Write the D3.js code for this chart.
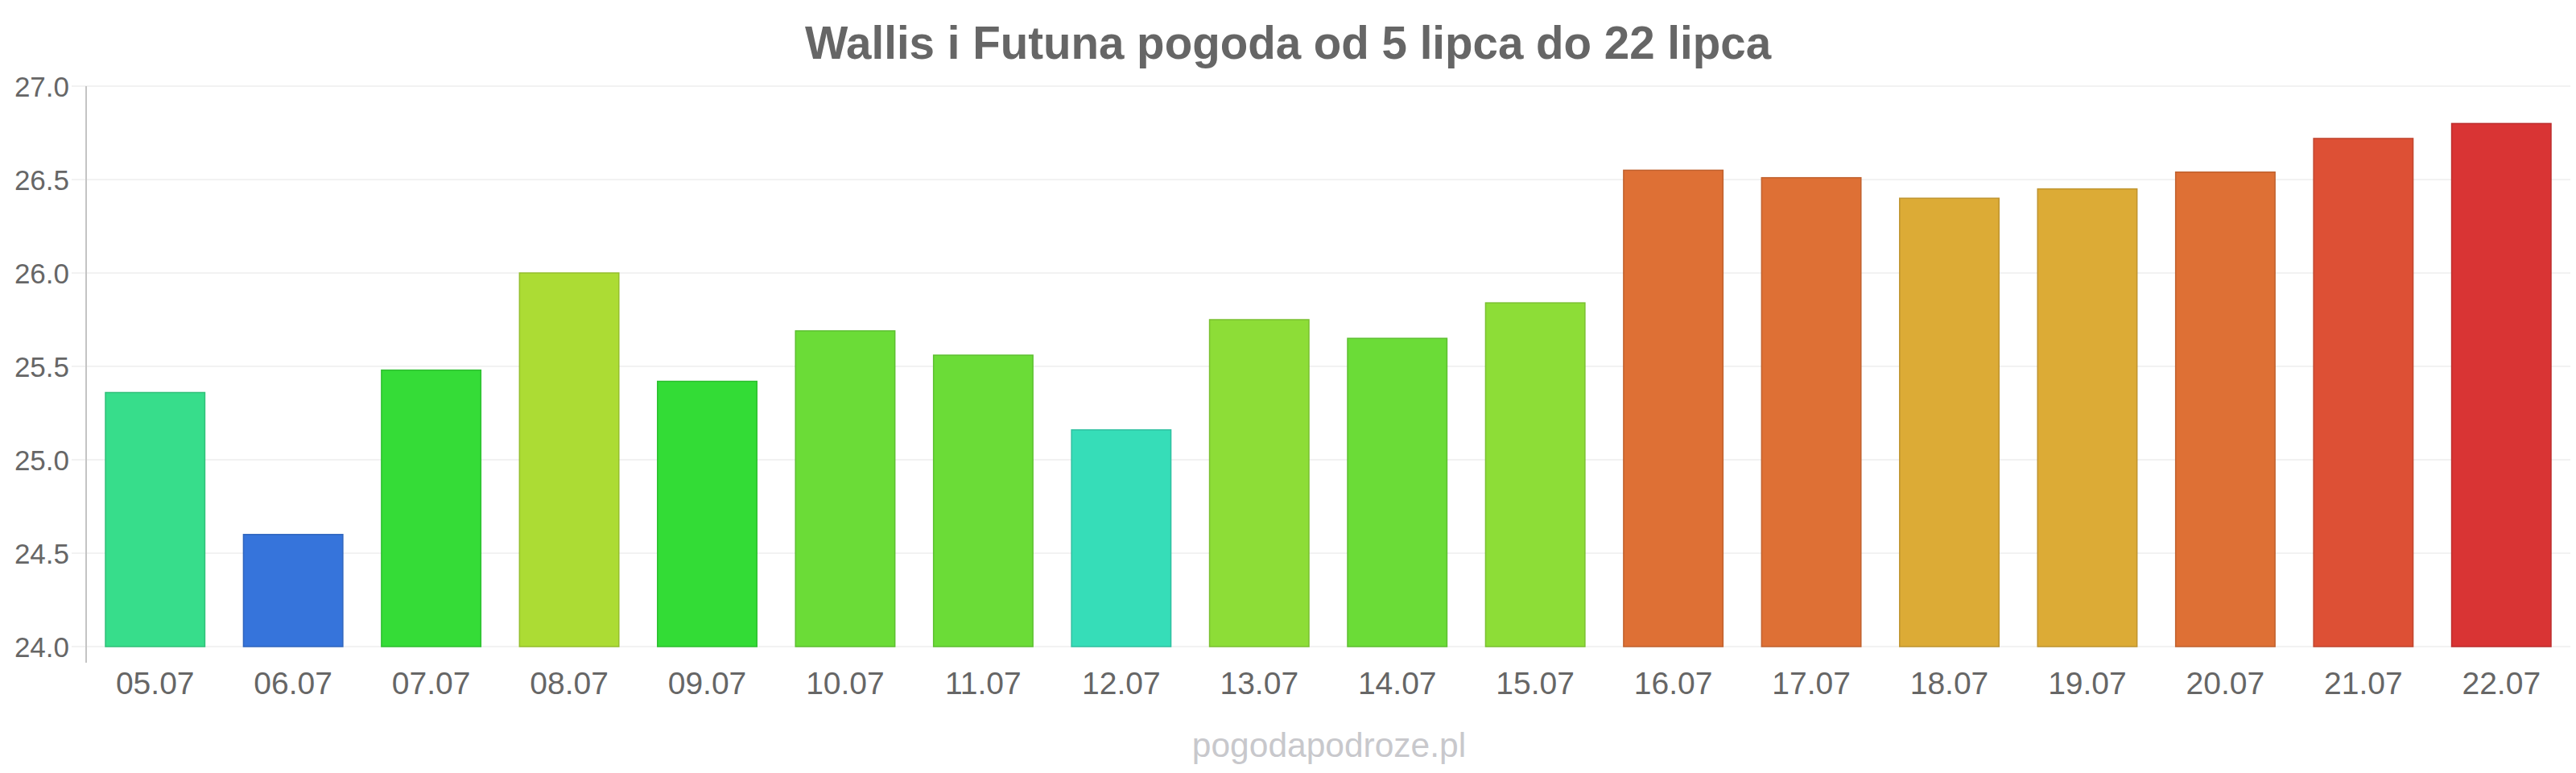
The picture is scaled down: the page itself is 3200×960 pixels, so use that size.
<!DOCTYPE html>
<html>
<head>
<meta charset="utf-8">
<script src="https://cdn.jsdelivr.net/npm/d3@7"></script>
<style>
  body { margin: 0; background: #fff; }
  svg text { font-family: "Liberation Sans", Arial, sans-serif; }
</style>
</head>
<body>
<div id="chart"></div>
<script>
// data
var days = ["05.07", "06.07", "07.07", "08.07", "09.07", "10.07", "11.07", "12.07", "13.07",
            "14.07", "15.07", "16.07", "17.07", "18.07", "19.07", "20.07", "21.07", "22.07"];
var temps = [25.36, 24.60, 25.48, 26.00, 25.42, 25.69, 25.56, 25.16, 25.75,
             25.65, 25.84, 26.55, 26.51, 26.40, 26.45, 26.54, 26.72, 26.80];
var barColors = ["#37dd8b", "#3674db", "#35dc37", "#acdc34", "#33dc36", "#6bdc37", "#6bdc37", "#36ddb8", "#8ddd37",
                 "#6bdc37", "#8ddd37", "#de7035", "#de7035", "#dcab36", "#dcab36", "#de7035", "#dd5035", "#d93434"];
var yTicks = [24.0, 24.5, 25.0, 25.5, 26.0, 26.5, 27.0];

var width = 3200;
var height = 960;
var plotLeft = 107, plotRight = 3193, plotTop = 107, plotBottom = 803;

var svg = d3.select("#chart")
  .append("svg")
  .attr("width", width)
  .attr("height", height);

var x = d3.scaleBand()
  .domain(days)
  .range([plotLeft, plotRight])
  .paddingInner(0.28)
  .paddingOuter(0.14);

var y = d3.scaleLinear()
  .domain([24, 27])
  .range([plotBottom, plotTop]);

//title
svg.append("text")
  .attr("x", width / 2)
  .attr("y", 73)
  .attr("text-anchor", "middle")
  .style("font-size", "56.5px")
  .style("font-weight", "bold")
  .style("fill", "#666")
  .text("Wallis i Futuna pogoda od 5 lipca do 22 lipca");

//grid lines
svg.append("g")
  .selectAll("line")
  .data(yTicks)
  .join("line")
  .attr("x1", plotLeft - 18)
  .attr("x2", plotRight)
  .attr("y1", d => y(d))
  .attr("y2", d => y(d))
  .style("stroke", "#f2f2f2")
  .style("stroke-width", 2);

//y labels
var yAxis = svg.append("g")
  .attr("transform", "translate(" + (plotLeft - 21) + ",0)")
  .call(d3.axisLeft(y).tickValues(yTicks).tickFormat(d3.format(".1f")).tickSize(0));
yAxis.select(".domain").remove();
yAxis.selectAll("text")
  .attr("x", 0)
  .attr("dy", "0.35em")
  .style("font-size", "35px")
  .style("fill", "#666");

//axis line
svg.append("line")
  .attr("x1", plotLeft)
  .attr("x2", plotLeft)
  .attr("y1", plotTop)
  .attr("y2", plotBottom + 20)
  .style("stroke", "#c4c4c4")
  .style("stroke-width", 2);

//bars
svg.append("g")
  .selectAll("rect")
  .data(temps)
  .join("rect")
  .attr("x", (d, i) => x(days[i]))
  .attr("y", d => y(d))
  .attr("width", x.bandwidth())
  .attr("height", d => y(24) - y(d))
  .style("fill", (d, i) => barColors[i])
  .style("stroke", (d, i) => d3.color(barColors[i]).darker(0.4))
  .style("stroke-width", 1.5);

//x labels
var xAxis = svg.append("g")
  .attr("transform", "translate(0," + plotBottom + ")")
  .call(d3.axisBottom(x).tickSize(0));
xAxis.select(".domain").remove();
xAxis.selectAll("text")
  .attr("y", 59)
  .attr("dy", 0)
  .style("font-size", "39px")
  .style("fill", "#666");

//watermark
svg.append("text")
  .attr("x", 1651)
  .attr("y", 940)
  .attr("text-anchor", "middle")
  .style("font-size", "42.5px")
  .style("fill", "#c8c8cc")
  .text("pogodapodroze.pl");
</script>
</body>
</html>
